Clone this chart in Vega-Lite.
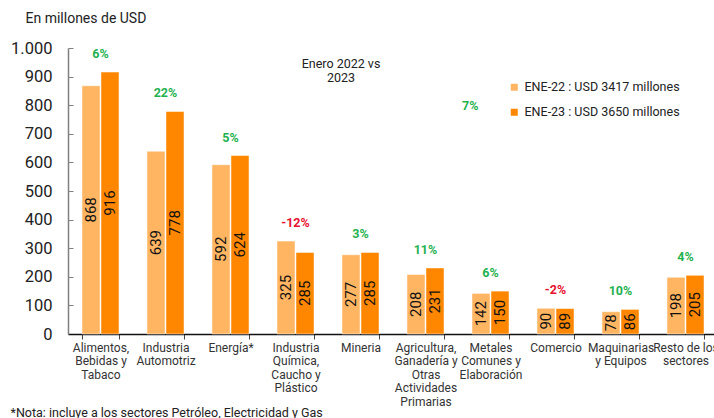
{
  "$schema": "https://vega.github.io/schema/vega-lite/v6.json",
  "width": 650,
  "height": 286,
  "autosize": {"type": "none"},
  "padding": {"left": 68, "top": 48, "right": 0, "bottom": 84},
  "background": "white",
  "config": {
    "font": "Roboto",
    "view": {"stroke": null},
    "axisY": {
      "labelOverlap": false,
      "labelFontSize": 16.5,
      "labelColor": "#222",
      "labelPadding": 16,
      "ticks": false,
      "domainColor": "#7f7f7f",
      "domainWidth": 1.5,
      "grid": true,
      "gridColor": "#7f7f7f",
      "gridWidth": 1,
      "gridDash": [5, 2000]
    }
  },
  "title": {
    "text": ["Enero 2022 vs", "2023"],
    "anchor": "middle",
    "frame": "group",
    "dx": -52,
    "offset": -64,
    "dy": 9,
    "baseline": "top",
    "fontSize": 12.5,
    "fontWeight": "normal",
    "color": "#222",
    "lineHeight": 14
  },
  "data": {
    "values": [
      {"sector": "Alimentos,|Bebidas y|Tabaco", "year": "2022", "value": 868, "pct": "6%"},
      {"sector": "Alimentos,|Bebidas y|Tabaco", "year": "2023", "value": 916, "pct": "6%"},
      {"sector": "Industria|Automotriz", "year": "2022", "value": 639, "pct": "22%"},
      {"sector": "Industria|Automotriz", "year": "2023", "value": 778, "pct": "22%"},
      {"sector": "Energía*", "year": "2022", "value": 592, "pct": "5%"},
      {"sector": "Energía*", "year": "2023", "value": 624, "pct": "5%"},
      {"sector": "Industria|Química,|Caucho y|Plástico", "year": "2022", "value": 325, "pct": "-12%"},
      {"sector": "Industria|Química,|Caucho y|Plástico", "year": "2023", "value": 285, "pct": "-12%"},
      {"sector": "Mineria", "year": "2022", "value": 277, "pct": "3%"},
      {"sector": "Mineria", "year": "2023", "value": 285, "pct": "3%"},
      {"sector": "Agricultura,|Ganadería y|Otras|Actividades|Primarias", "year": "2022", "value": 208, "pct": "11%"},
      {"sector": "Agricultura,|Ganadería y|Otras|Actividades|Primarias", "year": "2023", "value": 231, "pct": "11%"},
      {"sector": "Metales|Comunes y|Elaboración", "year": "2022", "value": 142, "pct": "6%"},
      {"sector": "Metales|Comunes y|Elaboración", "year": "2023", "value": 150, "pct": "6%"},
      {"sector": "Comercio", "year": "2022", "value": 90, "pct": "-2%"},
      {"sector": "Comercio", "year": "2023", "value": 89, "pct": "-2%"},
      {"sector": "Maquinarias|y Equipos", "year": "2022", "value": 78, "pct": "10%"},
      {"sector": "Maquinarias|y Equipos", "year": "2023", "value": 86, "pct": "10%"},
      {"sector": "Resto de los|sectores", "year": "2022", "value": 198, "pct": "4%"},
      {"sector": "Resto de los|sectores", "year": "2023", "value": 205, "pct": "4%"}
    ]
  },
  "encoding": {
    "x": {
      "field": "sector",
      "type": "nominal",
      "sort": null,
      "scale": {"paddingInner": 0.43, "paddingOuter": 0.215},
      "axis": {
        "title": "*Nota: incluye a los sectores Petróleo, Electricidad y Gas",
        "titleAnchor": "start",
        "titleAlign": "left",
        "titleX": -58,
        "titleY": 78,
        "titleBaseline": "middle",
        "titleFontSize": 12.5,
        "titleFontWeight": "normal",
        "titleColor": "#222",
        "labelAngle": 0,
        "labelExpr": "split(datum.label, '|')",
        "labelFontSize": 12,
        "labelColor": "#333",
        "labelLineHeight": 13.5,
        "labelPadding": 3,
        "labelBaseline": "top",
        "labelOverlap": false,
        "labelFlush": false,
        "tickBand": "extent",
        "tickSize": 5,
        "tickColor": "#444",
        "domainColor": "#111",
        "domainWidth": 1.5
      }
    }
  },
  "layer": [
    {
      "mark": {"type": "bar", "stroke": "white", "strokeWidth": 0.5},
      "encoding": {
        "xOffset": {"field": "year", "type": "nominal", "scale": {"paddingInner": 0.05}},
        "y": {
          "field": "value",
          "type": "quantitative",
          "scale": {"domain": [0, 1000], "nice": false},
          "axis": {
            "title": "En millones de USD",
            "titleAngle": 0,
            "titleX": -43,
            "titleY": -30,
            "titleAlign": "left",
            "titleBaseline": "middle",
            "titleFontSize": 14,
            "titleFontWeight": "normal",
            "titleColor": "#222",
            "values": [0, 100, 200, 300, 400, 500, 600, 700, 800, 900, 1000],
            "labelExpr": "datum.value == 1000 ? '1.000' : datum.label"
          }
        },
        "color": {
          "field": "year",
          "type": "nominal",
          "scale": {"domain": ["2022", "2023"], "range": ["#FFB562", "#FF8700"]},
          "legend": {
            "orient": "none",
            "legendX": 394,
            "legendY": 33,
            "title": "7%",
            "titleOrient": "left",
            "titleColor": "#1FB24F",
            "titleFontSize": 12.5,
            "titleFontWeight": "bold",
            "titlePadding": 29,
            "titleAnchor": "middle",
            "titleBaseline": "top",
            "symbolType": "square",
            "symbolSize": 49,
            "symbolStrokeWidth": 0,
            "labelFontSize": 12.5,
            "labelColor": "#222",
            "labelOffset": 4,
            "rowPadding": 12,
            "padding": 0,
            "labelExpr": "datum.label == '2022' ? 'ENE-22 : USD 3417 millones' : 'ENE-23 : USD 3650 millones'"
          }
        }
      }
    },
    {
      "transform": [{"calculate": "datum.value / 2", "as": "mid"}],
      "mark": {"type": "text", "angle": 270, "fontSize": 15, "color": "#111"},
      "encoding": {
        "xOffset": {"field": "year", "type": "nominal"},
        "y": {
          "field": "mid",
          "type": "quantitative",
          "axis": {
            "title": "En millones de USD",
            "titleAngle": 0,
            "titleX": -43,
            "titleY": -30,
            "titleAlign": "left",
            "titleBaseline": "middle",
            "titleFontSize": 14,
            "titleFontWeight": "normal",
            "titleColor": "#222",
            "values": [0, 100, 200, 300, 400, 500, 600, 700, 800, 900, 1000],
            "labelExpr": "datum.value == 1000 ? '1.000' : datum.label"
          }
        },
        "text": {"field": "value", "type": "quantitative"}
      }
    },
    {
      "transform": [{"aggregate": [{"op": "max", "field": "value", "as": "top"}], "groupby": ["sector", "pct"]}],
      "mark": {"type": "text", "fontWeight": "bold", "fontSize": 12.5, "dy": -18},
      "encoding": {
        "y": {
          "field": "top",
          "type": "quantitative",
          "axis": {
            "title": "En millones de USD",
            "titleAngle": 0,
            "titleX": -43,
            "titleY": -30,
            "titleAlign": "left",
            "titleBaseline": "middle",
            "titleFontSize": 14,
            "titleFontWeight": "normal",
            "titleColor": "#222",
            "values": [0, 100, 200, 300, 400, 500, 600, 700, 800, 900, 1000],
            "labelExpr": "datum.value == 1000 ? '1.000' : datum.label"
          }
        },
        "text": {"field": "pct", "type": "nominal"},
        "color": {"condition": {"test": "substring(datum.pct, 0, 1) == '-'", "value": "#E8102E"}, "value": "#1FB24F"}
      }
    }
  ]
}
